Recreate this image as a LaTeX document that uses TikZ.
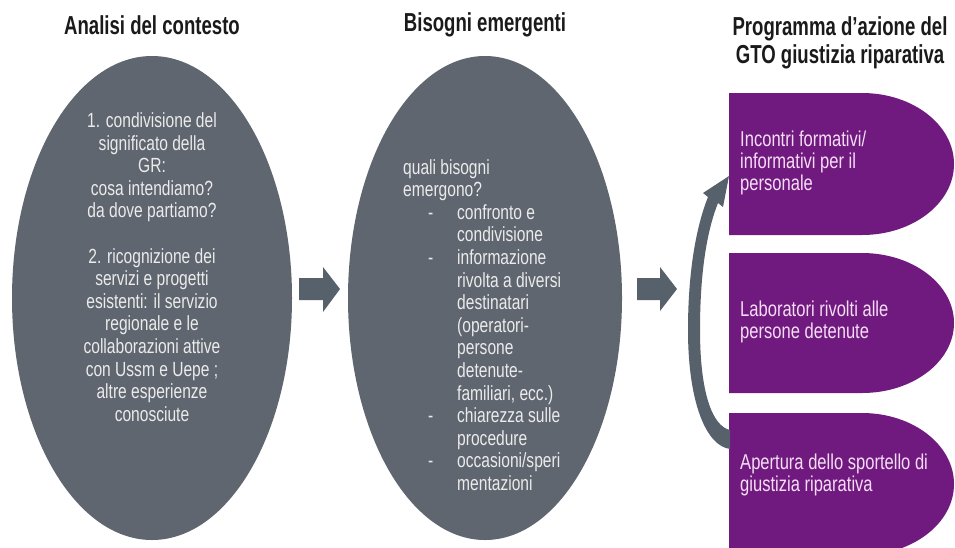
\documentclass[tikz,border=0pt]{standalone}
\usepackage{fontspec}
\setmainfont{Liberation Sans}[FakeStretch=0.76]
\newfontfamily\titlefont{Liberation Sans}[FakeStretch=0.715]
\newfontfamily\purplefont{Liberation Sans}[FakeStretch=0.77]
\usetikzlibrary{shapes.geometric}
\definecolor{ellgray}{HTML}{5F6670}
\definecolor{arrgray}{HTML}{56616C}
\definecolor{elltext}{HTML}{EBEBEB}
\definecolor{purp}{HTML}{701A80}
\definecolor{purptext}{HTML}{F6DDF6}
\definecolor{titlecol}{HTML}{1A1A1A}
\newcommand\dashitem{\makebox[54pt][l]{\hspace*{25pt}-}}
\newcommand\contitem{\hspace*{54pt}}
\begin{document}
\begin{tikzpicture}[x=1pt,y=-1pt,
  title/.style={font=\titlefont\bfseries\fontsize{26}{28}\selectfont, text=titlecol, inner sep=0pt, align=center},
  bubble/.style={ellipse, fill=ellgray, draw=none, inner sep=0pt},
  etext/.style={font=\fontsize{20.5}{22.6}\selectfont, text=elltext, inner sep=0pt},
  ptext/.style={font=\purplefont\fontsize{21.5}{22}\selectfont, text=purptext, inner sep=0pt, align=left, anchor=west},
  purpshape/.style={fill=purp},
  blockarrow/.style={fill=arrgray}
]
\useasboundingbox (0,0) rectangle (955,547);
\clip (0,0) rectangle (955,547);
\fill[white] (0,0) rectangle (955,547);

% titles
\node[title] (t1) at (152,25) {Analisi del contesto};
\node[title] (t2) at (485,25) {Bisogni emergenti};
\node[title] (t3) at (840,43) {Programma d’azione del\\GTO giustizia riparativa};

% ellipses
\node[bubble, minimum width=280pt, minimum height=484pt] (e1) at (152,298) {};
\node[bubble, minimum width=274pt, minimum height=484pt] (e2) at (485,298) {};

% block arrows
\fill[blockarrow] (299,278) -- (323,278) -- (323,267) -- (340,289) -- (323,312) -- (323,300) -- (299,300) -- cycle;
\fill[blockarrow] (637,278) -- (660,278) -- (660,267) -- (677,289) -- (660,311) -- (660,300) -- (637,300) -- cycle;

% purple shapes
\fill[purpshape] (729,93) -- (862,93) arc[start angle=90, end angle=-90, x radius=92pt, y radius=71pt] -- (729,235) -- cycle;
\fill[purpshape] (729,253) -- (862,253) arc[start angle=90, end angle=-90, x radius=92pt, y radius=70pt] -- (729,393) -- cycle;
\fill[purpshape] (729,413) -- (862,413) arc[start angle=90, end angle=-90, x radius=92pt, y radius=71pt] -- (729,555) -- cycle;

% curved arrow
\fill[blockarrow] (730,449) .. controls (706,446) and (688,402) .. (688,330)
  .. controls (688,265) and (698,222) .. (708,197)
  -- (703,193) -- (729,176) -- (723,207) -- (718,203)
  .. controls (708,228) and (700,268) .. (700,330)
  .. controls (700,392) and (712,426) .. (730,430) -- cycle;

% ellipse texts
\node[etext, align=center] (l1) at (152,267) {1. condivisione del\\significato della\\GR:\\cosa intendiamo?\\da dove partiamo?\\[22.6pt]2. ricognizione dei\\servizi e progetti\\esistenti: il servizio\\regionale e le\\collaborazioni attive\\con Ussm e Uepe ;\\altre esperienze\\conosciute};
\node[etext, align=left, anchor=west] (m1) at (403,325) {quali bisogni\\emergono?\\\dashitem confronto e\\\contitem condivisione\\\dashitem informazione\\\contitem rivolta a diversi\\\contitem destinatari\\\contitem (operatori-\\\contitem persone\\\contitem detenute-\\\contitem familiari, ecc.)\\\dashitem chiarezza sulle\\\contitem procedure\\\dashitem occasioni/speri\\\contitem mentazioni};

% purple texts
\node[ptext] (p1) at (740,163) {Incontri formativi/\\informativi per il\\personale};
\node[ptext] (p2) at (740,322) {Laboratori rivolti alle\\persone detenute};
\node[ptext] (p3) at (740,475) {Apertura dello sportello di\\giustizia riparativa};
\end{tikzpicture}
\end{document}
